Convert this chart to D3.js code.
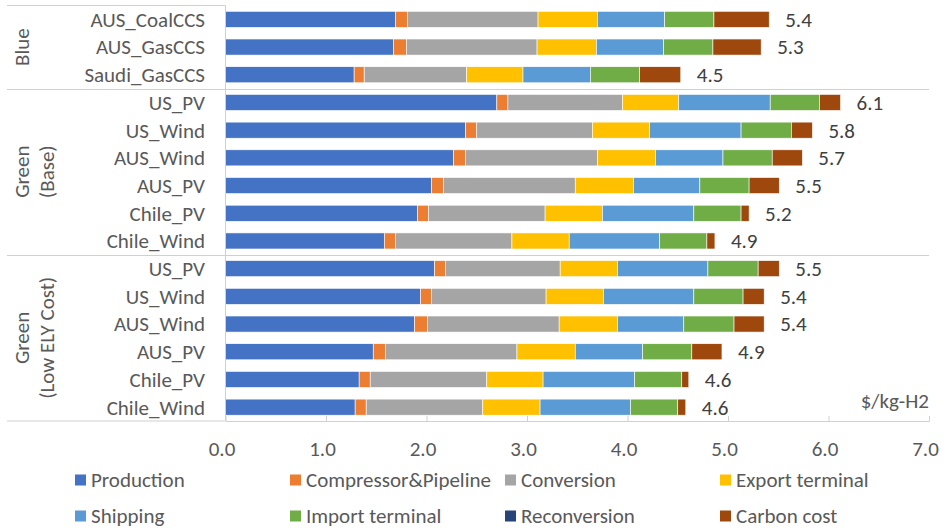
<!DOCTYPE html>
<html>
<head>
<meta charset="utf-8">
<script src="https://cdn.jsdelivr.net/npm/d3@7"></script>
<style>
  html, body { margin: 0; padding: 0; background: #fff; }
  svg { display: block; }
  text { font-family: Carlito, Calibri, Lato, "Noto Sans", sans-serif; }
</style>
</head>
<body>
<svg id="chart" width="944" height="531"></svg>
<script>
// Hydrogen delivered cost breakdown ($/kg-H2) by supply route
const groups = ["Blue", "Green (Base)", "Green (Low ELY Cost)"];
const groupLines = [["Blue"], ["Green", "(Base)"], ["Green", "(Low ELY Cost)"]];
const categories = [
  "AUS_CoalCCS", "AUS_GasCCS", "Saudi_GasCCS",
  "US_PV", "US_Wind", "AUS_Wind", "AUS_PV", "Chile_PV", "Chile_Wind",
  "US_PV", "US_Wind", "AUS_Wind", "AUS_PV", "Chile_PV", "Chile_Wind"
];
const categoryGroup = [0, 0, 0, 1, 1, 1, 1, 1, 1, 2, 2, 2, 2, 2, 2];

const seriesNames = ["Production", "Compressor&Pipeline", "Conversion", "Export terminal",
                     "Shipping", "Import terminal", "Reconversion", "Carbon cost"];
const seriesColors = ["#4472C4", "#ED7D31", "#A5A5A5", "#FFC000",
                      "#5B9BD5", "#70AD47", "#264478", "#9E480E"];

const production   = [1.69, 1.67, 1.28, 2.70, 2.39, 2.27, 2.05, 1.91, 1.58, 2.08, 1.94, 1.88, 1.47, 1.33, 1.29];
const compressor   = [0.12, 0.13, 0.10, 0.11, 0.11, 0.12, 0.12, 0.11, 0.11, 0.11, 0.11, 0.13, 0.12, 0.11, 0.11];
const conversion   = [1.30, 1.30, 1.02, 1.14, 1.15, 1.31, 1.31, 1.16, 1.16, 1.14, 1.14, 1.31, 1.31, 1.16, 1.16];
const exportTerm   = [0.59, 0.59, 0.56, 0.56, 0.57, 0.58, 0.58, 0.57, 0.57, 0.57, 0.57, 0.58, 0.58, 0.56, 0.57];
const shipping     = [0.67, 0.67, 0.67, 0.91, 0.91, 0.67, 0.66, 0.91, 0.90, 0.90, 0.90, 0.66, 0.67, 0.91, 0.90];
const importTerm   = [0.49, 0.49, 0.49, 0.49, 0.50, 0.49, 0.49, 0.47, 0.47, 0.50, 0.49, 0.50, 0.49, 0.47, 0.47];
const reconversion = [0, 0, 0, 0, 0, 0, 0, 0, 0, 0, 0, 0, 0, 0, 0];
const carbonCost   = [0.55, 0.48, 0.41, 0.21, 0.21, 0.30, 0.30, 0.08, 0.08, 0.21, 0.21, 0.30, 0.30, 0.07, 0.08];

const xTicks = [0, 1, 2, 3, 4, 5, 6, 7];
const unitLabel = "$/kg-H2";

const seriesValues = [production, compressor, conversion, exportTerm,
                      shipping, importTerm, reconversion, carbonCost];

// one row per bar, keyed by group + route so repeated route names stay distinct
const rows = categories.map((name, i) => {
  const r = { key: categoryGroup[i] + "|" + name, name, group: categoryGroup[i] };
  seriesNames.forEach((s, j) => { r[s] = seriesValues[j][i]; });
  r.total = d3.sum(seriesNames, s => r[s]);
  return r;
});

const svg = d3.select("#chart");
const textColor = "#595959";
const lineColor = "#D0D0D0";
const fontSize = 21;

const x = d3.scaleLinear().domain([0, 7]).range([225.5, 929]);
const y = d3.scaleBand()
  .domain(rows.map(r => r.key))
  .range([5.5, 421])
  .paddingInner(0.42)
  .paddingOuter(0.21);
const gap = (y.step() - y.bandwidth()) / 2;
const labelLeft = 7;

// stacked segments
const stacked = d3.stack().keys(seriesNames)(rows);
svg.append("g").selectAll("g")
  .data(stacked)
  .join("g")
  .attr("fill", (d, i) => seriesColors[i])
  .selectAll("rect")
  .data(d => d)
  .join("rect")
  .attr("x", d => x(d[0]))
  .attr("y", d => y(d.data.key))
  .attr("width", d => Math.max(0, x(d[1]) - x(d[0])))
  .attr("height", y.bandwidth())
  .attr("stroke", "#fff")
  .attr("stroke-width", 0.6);

// frame lines of the category area
const frame = svg.append("g").attr("stroke", lineColor).attr("stroke-width", 1).attr("fill", "none");
const topY = y(rows[0].key) - gap;
const bottomY = y(rows[rows.length - 1].key) + y.bandwidth() + gap;
frame.append("line").attr("x1", labelLeft).attr("x2", x(0)).attr("y1", topY).attr("y2", topY);
frame.append("line").attr("x1", x(0)).attr("x2", x(0)).attr("y1", topY).attr("y2", bottomY);
groups.forEach((g, gi) => {
  if (gi === 0) return;
  const first = rows.find(r => r.group === gi);
  const yy = Math.round(y(first.key) - gap) + 0.5;
  frame.append("line").attr("x1", labelLeft).attr("x2", x(7)).attr("y1", yy).attr("y2", yy);
});
frame.append("line").attr("x1", labelLeft).attr("x2", x(0)).attr("y1", bottomY).attr("y2", bottomY);

// value axis
const axis = svg.append("g")
  .attr("transform", `translate(0,${bottomY})`)
  .call(d3.axisBottom(x).tickValues(xTicks).tickFormat(d3.format(".1f"))
    .tickSizeInner(-5).tickSizeOuter(0).tickPadding(20));
axis.select(".domain").attr("stroke", lineColor);
axis.selectAll(".tick line").attr("stroke", lineColor);
axis.selectAll(".tick text")
  .attr("fill", textColor)
  .attr("font-size", fontSize)
  .attr("dx", -4)
  .style("font-family", "Carlito, Calibri, Lato, 'Noto Sans', sans-serif");

// route labels
svg.append("g").selectAll("text")
  .data(rows)
  .join("text")
  .attr("x", 205)
  .attr("y", d => y(d.key) + y.bandwidth() / 2)
  .attr("dy", "0.35em")
  .attr("text-anchor", "end")
  .attr("font-size", fontSize)
  .attr("fill", textColor)
  .text(d => d.name);

// group labels, rotated
groups.forEach((g, gi) => {
  const members = rows.filter(r => r.group === gi);
  const y0 = y(members[0].key) - gap;
  const y1 = y(members[members.length - 1].key) + y.bandwidth() + gap;
  const cy = (y0 + y1) / 2;
  groupLines[gi].forEach((line, li) => {
    svg.append("text")
      .attr("transform", `translate(${29 + li * 25},${cy}) rotate(-90)`)
      .attr("text-anchor", "middle")
      .attr("font-size", fontSize)
      .attr("fill", textColor)
      .text(line);
  });
});

// totals at the end of each bar
svg.append("g").selectAll("text")
  .data(rows)
  .join("text")
  .attr("x", d => x(d.total) + 16)
  .attr("y", d => y(d.key) + y.bandwidth() / 2)
  .attr("dy", "0.35em")
  .attr("font-size", fontSize)
  .attr("fill", "#404040")
  .text(d => d3.format(".1f")(d.total));

// unit
svg.append("text")
  .attr("x", x(7))
  .attr("y", 408)
  .attr("text-anchor", "end")
  .attr("font-size", fontSize)
  .attr("fill", textColor)
  .text(unitLabel);

// legend: two rows of four
const legend = svg.append("g");
seriesNames.forEach((s, i) => {
  const col = i % 4, row = Math.floor(i / 4);
  const lx = 75 + col * 215;
  const ly = 480 + row * 36;
  legend.append("rect")
    .attr("x", lx).attr("y", ly - 5.5)
    .attr("width", 11).attr("height", 11)
    .attr("fill", seriesColors[i]);
  legend.append("text")
    .attr("x", lx + 16).attr("y", ly)
    .attr("dy", "0.35em")
    .attr("font-size", fontSize)
    .attr("fill", textColor)
    .text(s);
});
</script>
</body>
</html>
